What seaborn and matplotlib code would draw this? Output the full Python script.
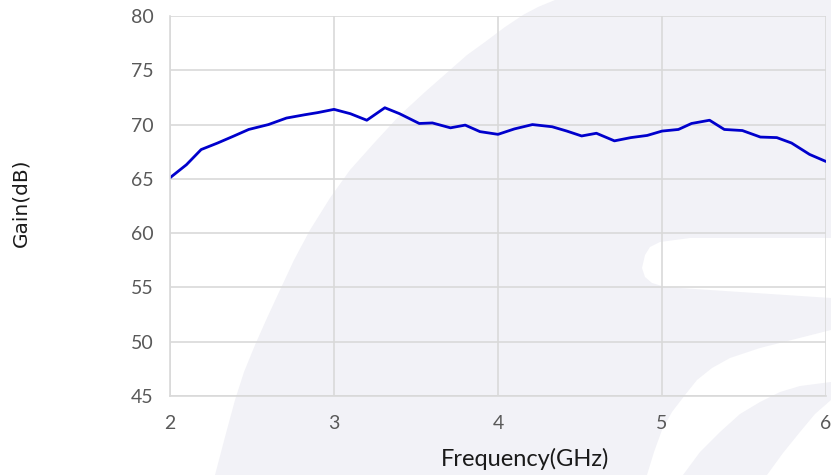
import matplotlib
matplotlib.use("Agg")
import matplotlib.pyplot as plt
import seaborn as sns
import pandas as pd
from matplotlib.patches import Polygon

# Data
freq_ghz = [2.00, 2.10, 2.19, 2.29, 2.39, 2.48, 2.60, 2.71, 2.82, 2.90,
            3.00, 3.10, 3.20, 3.31, 3.40, 3.52, 3.60, 3.71, 3.80, 3.89,
            4.00, 4.10, 4.21, 4.33, 4.42, 4.51, 4.60, 4.71, 4.81, 4.91,
            5.00, 5.10, 5.18, 5.29, 5.38, 5.49, 5.60, 5.70, 5.79, 5.90,
            6.00]
gain_db = [65.1, 66.3, 67.7, 68.3, 68.95, 69.55, 70.0, 70.6, 70.9, 71.1,
           71.4, 71.0, 70.4, 71.55, 71.0, 70.1, 70.15, 69.7, 69.95, 69.35,
           69.1, 69.6, 70.0, 69.8, 69.4, 68.95, 69.2, 68.5, 68.8, 69.0,
           69.4, 69.55, 70.1, 70.4, 69.55, 69.45, 68.85, 68.8, 68.3, 67.25,
           66.6]

x_ticks = [2, 3, 4, 5, 6]
y_ticks = [45, 50, 55, 60, 65, 70, 75, 80]

df = pd.DataFrame({"Frequency": freq_ghz, "Gain": gain_db})

sns.set_style("white")
plt.rcParams["font.family"] = ["Lato", "DejaVu Sans"]

W, H = 831, 475
fig = plt.figure(figsize=(W / 100, H / 100), dpi=100)

# -----------------------------
# Faint watermark in the background
# -----------------------------
def px(points):
    return [(x / W, 1 - y / H) for x, y in points]

wm = "#f2f2f7"
main_shape = [(555, 0), (538, 7), (523, 15), (505, 27), (485, 42),
              (467, 55), (450, 70), (425, 92), (400, 115), (375, 142),
              (350, 170), (330, 198), (310, 230), (294, 260), (280, 290),
              (267, 318), (255, 345), (244, 372), (235, 400), (225, 437),
              (215, 475), (831, 475), (831, 0)]
fig.patches.append(Polygon(px(main_shape), closed=True, transform=fig.transFigure,
                           facecolor=wm, edgecolor="none", zorder=-5))

blob = [(831, 238), (690, 238), (660, 242), (650, 247), (645, 255),
        (642, 268), (645, 277), (652, 283), (665, 287), (740, 292),
        (831, 298)]
band_b = [(831, 330), (760, 348), (730, 358), (712, 368), (697, 380),
          (685, 395), (672, 412), (662, 430), (654, 452), (647, 475),
          (683, 475), (700, 452), (720, 432), (740, 414), (760, 402),
          (780, 392), (800, 386), (831, 382)]
band_c = [(831, 400), (815, 414), (800, 432), (783, 453), (767, 475),
          (831, 475)]
for shape in (blob, band_b, band_c):
    fig.patches.append(Polygon(px(shape), closed=True, transform=fig.transFigure,
                               facecolor="white", edgecolor="none", zorder=-4))

# -----------------------------
# Chart
# -----------------------------
ax = fig.add_axes([170 / W, 1 - 396 / H, 656 / W, 380 / H])
ax.set_zorder(1)
ax.patch.set_alpha(0)

sns.lineplot(data=df, x="Frequency", y="Gain", ax=ax,
             color="#0000cc", linewidth=2.0)

ax.set_xlim(2, 6)
ax.set_ylim(45, 80)
ax.set_xticks(x_ticks)
ax.set_yticks(y_ticks)

grid_color = "#d9d9d9"
ax.grid(True, color=grid_color, linewidth=1.2)
ax.set_axisbelow(True)
for side in ["top", "right"]:
    ax.spines[side].set_visible(False)
for side in ["left", "bottom"]:
    ax.spines[side].set_color(grid_color)
    ax.spines[side].set_linewidth(1.2)

ax.tick_params(axis="both", length=0, labelsize=14, labelcolor="#595959")
ax.tick_params(axis="y", pad=12)
ax.tick_params(axis="x", pad=14)

ax.set_xlabel("Frequency(GHz)", fontsize=17, color="#1a1a1a")
ax.xaxis.set_label_coords((525 - 170) / 656, -(459 - 396) / 380)
ax.xaxis.label.set_va("center")
ax.set_ylabel("")
fig.text(21 / W, 1 - 203 / H, "Gain(dB)", rotation=90, ha="center", va="center",
         fontsize=14.5, color="#1a1a1a", family=["DejaVu Sans"])

plt.savefig("out.png", dpi=100)
